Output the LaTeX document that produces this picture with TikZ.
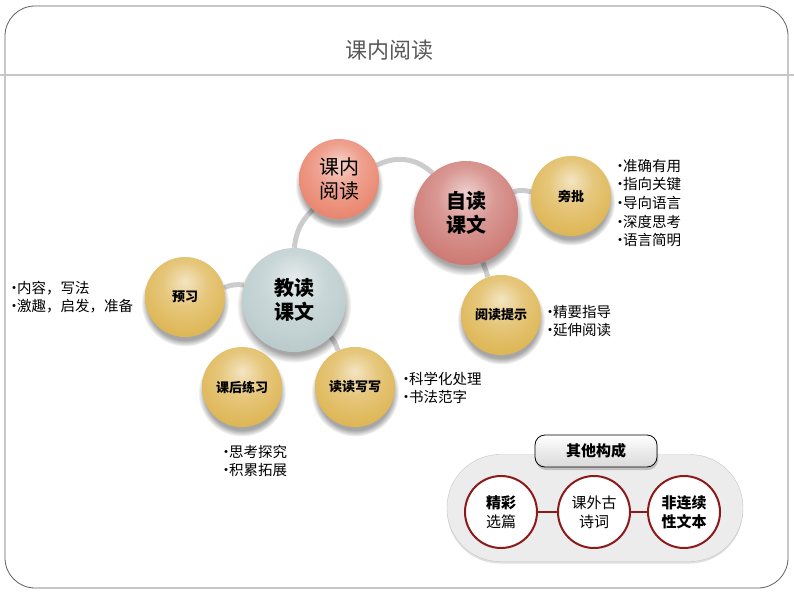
\documentclass[tikz,border=0pt]{standalone}
\usepackage{fontspec}
\setmainfont{Noto Sans CJK SC}
\usepackage{tikz}
\usetikzlibrary{shadows,backgrounds}
\definecolor{gold}{HTML}{DDB450}
\definecolor{salmon}{HTML}{E9826A}
\definecolor{rosy}{HTML}{CC7670}
\definecolor{steel}{HTML}{B9CACB}
\definecolor{ring}{HTML}{8B1A1A}
\colorlet{ballc}{gold}
\pgfdeclareradialshading[ballc]{glossy}{\pgfpoint{0bp}{10bp}}{%
    color(0bp)=(ballc!35!white); color(14bp)=(ballc!75!white); color(32bp)=(ballc);
    color(46bp)=(ballc!88!black); color(56bp)=(ballc!65!black); color(70bp)=(ballc!60!black)}
\tikzset{
    glossy-ball/.style = {/utils/exec=\colorlet{ballc}{#1}, shade, shading=glossy},
    ball/.style = {circle, inner sep=0pt, align=center, font=\fontsize{20}{24}\selectfont,
        circular drop shadow={shadow xshift=0pt, shadow yshift=-5pt, opacity=.35, fill=black}},
    gold-ball/.style = {ball, minimum size=80pt, glossy-ball=gold, font=\fontsize{13}{16}\selectfont\bfseries},
    note-list/.style = {anchor=west, align=left, inner sep=0pt, font=\fontsize{14.5}{18.6}\selectfont},
    link-line/.style = {draw=gray!40, line width=5pt},
    other-ring/.style = {circle, draw=ring, line width=2pt, fill=white, minimum size=72pt, inner sep=0pt,
        align=center, font=\fontsize{15}{19}\selectfont},
}
\newcommand{\bul}{\kern-.3em\textbullet\kern-.3em}

\begin{document}
\begin{tikzpicture}[x=1pt,y=-1pt]
\useasboundingbox (0,0) rectangle (794,596);
% frame and title
\draw[gray!75!black, line width=0.8pt, rounded corners=30pt] (5,6) rectangle (788,588);
\draw[gray!45, line width=1.2pt] (0,75) -- (794,75);
\node[text=gray!70!black, font=\fontsize{22}{26}\selectfont] (title) at (389,50) {课内阅读};

% main balls
\node[ball, minimum size=80pt, glossy-ball=salmon] (kn) at (339,179) {课内\\阅读};
\node[ball, minimum size=104pt, glossy-ball=rosy] (zd) at (466,213) {\bfseries 自读\\\bfseries 课文};
\node[ball, minimum size=104pt, glossy-ball=steel] (jd) at (294,300) {\bfseries 教读\\\bfseries 课文};
\node[gold-ball] (pp) at (571,196) {旁批};
\node[gold-ball] (ts) at (501,315) {阅读提示};
\node[gold-ball] (yx) at (185,297) {预习};
\node[gold-ball] (lx) at (242,387) {课后练习};
\node[gold-ball] (xx) at (355,387) {读读写写};

\begin{scope}[on background layer]
\draw[link-line] (kn) to[bend left=35] (zd);
\draw[link-line] (kn) to[bend right=20] (jd);
\draw[link-line] (zd) to[bend left=15] (pp);
\draw[link-line] (zd) to (ts);
\draw[link-line] (jd) to[bend right=15] (yx);
\draw[link-line] (jd) to[bend left=10] (xx);
\end{scope}

% notes
\node[note-list] (n-yx) at (11,297) {\bul 内容，写法\\\bul 激趣，启发，准备};
\node[note-list] (n-pp) at (617,203) {\bul 准确有用\\\bul 指向关键\\\bul 导向语言\\\bul 深度思考\\\bul 语言简明};
\node[note-list] (n-ts) at (547,321) {\bul 精要指导\\\bul 延伸阅读};
\node[note-list] (n-xx) at (403,388) {\bul 科学化处理\\\bul 书法范字};
\node[note-list] (n-lx) at (223,461) {\bul 思考探究\\\bul 积累拓展};

% other parts
\node[draw=gray!45, fill=gray!15, rounded corners=53pt, minimum width=296pt, minimum height=107pt,
    drop shadow={shadow xshift=0pt, shadow yshift=-2pt, opacity=.25}] (pill) at (595,508) {};
\node[draw=black, line width=0.8pt, rounded corners=10pt, minimum width=122pt, minimum height=32pt,
    top color=white, bottom color=gray!30, font=\fontsize{15}{18}\selectfont\bfseries,
    drop shadow={shadow xshift=1pt, shadow yshift=-3pt, opacity=.4}] (tab) at (596,451) {其他构成};
\node[other-ring] (o1) at (501,512) {\bfseries 精彩\\选篇};
\node[other-ring] (o2) at (594,512) {课外古\\诗词};
\node[other-ring] (o3) at (684,512) {\bfseries 非连续\\\bfseries 性文本};
\draw[ring, line width=1.5pt] (o1) -- (o2);
\draw[ring, line width=1.5pt] (o2) -- (o3);
\end{tikzpicture}
\end{document}
